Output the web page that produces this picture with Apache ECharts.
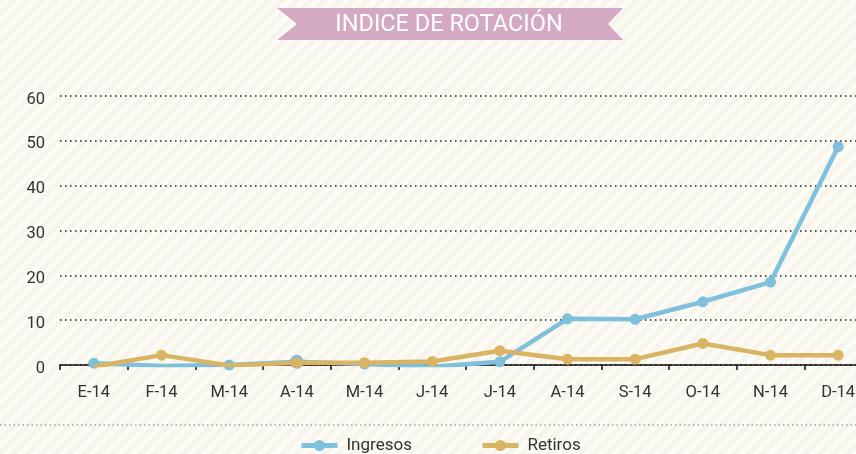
<!DOCTYPE html>
<html><head><meta charset="utf-8">
<script src="https://cdn.jsdelivr.net/npm/echarts@6/dist/echarts.min.js"></script>
<style>
html,body{margin:0;padding:0;overflow:hidden;width:856px;height:454px;}
#c{width:872px;height:454px;background:repeating-linear-gradient(-45deg,#fdfbf5 0px,#fdfbf5 5px,#f7f4ec 5px,#f7f4ec 10px);}
</style></head><body>
<div id="c"></div>
<script>
var categories = ['E-14','F-14','M-14','A-14','M-14','J-14','J-14','A-14','S-14','O-14','N-14','D-14'];
var ingresos = [0.4,-0.2,0,0.7,0.2,-0.4,0.7,10.3,10.2,14.1,18.5,48.7];
var retiros = [-0.4,2.2,-0.1,0.5,0.5,0.8,3.2,1.3,1.3,4.8,2.2,2.2];
var yTicks = [0,10,20,30,40,50,60];
var titleText = 'INDICE DE ROTACIÓN';

var chart = echarts.init(document.getElementById('c'), null, {renderer:'canvas'});
var font = 'Roboto, "Liberation Sans", sans-serif';
var ingresosData = ingresos.map(function(v, i){ return i === 3 ? {value: v, symbolSize: 14} : v; });
chart.setOption({
  backgroundColor: 'transparent',
  animation: false,
  textStyle: {fontFamily: font},
  graphic: [
    {type:'polygon', shape:{points:[[277,8],[623,8],[608,24],[623,40],[277,40],[297,24]]}, style:{fill:'#d4a9c4'}},
    {type:'text', x:449, y:25, style:{text:titleText, fill:'#ffffff', font:'23.5px '+font, textAlign:'center', textVerticalAlign:'middle'}},
    {type:'line', shape:{x1:0,y1:425,x2:872,y2:425}, style:{stroke:'#777', lineWidth:1.2, lineDash:[1.5,3]}}
  ],
  legend: {
    top: 437, left: 299, padding: 0, itemGap: 68, itemWidth: 36, itemHeight: 14,
    lineStyle: {width: 5},
    textStyle: {fontSize: 17, color: '#333', fontFamily: font, padding:[0,0,0,4]},
    data: ['Ingresos','Retiros']
  },
  grid: {left: 60, top: 96, right: 0, bottom: 89, containLabel: false},
  xAxis: {
    type: 'category', data: categories, boundaryGap: true,
    axisLine: {lineStyle: {color: '#111', width: 1.5}},
    axisTick: {show: true, length: 5, lineStyle: {color:'#111', width:1.5}},
    axisLabel: {fontSize: 16.5, color: '#333', margin: 19, fontFamily: font}
  },
  yAxis: {
    type: 'value', min: 0, max: 60, interval: 10,
    axisLine: {show: false}, axisTick: {show: false},
    axisLabel: {fontSize: 16.5, color: '#333', margin: 15, fontFamily: font,
      verticalAlign: 'top', lineHeight: 7,
      formatter: function(v){ return yTicks.indexOf(v) >= 0 ? String(v) : ''; }},
    splitLine: {lineStyle: {color: '#222', width: 1.5, type: [1.5, 3.5]}}
  },
  series: [
    {name:'Ingresos', type:'line', data: ingresosData, symbol:'circle', symbolSize: 11,
     lineStyle:{color:'#7fc0dc', width:4.5}, itemStyle:{color:'#7fc0dc'}, z: 2},
    {name:'Retiros', type:'line', data: retiros, symbol:'circle', symbolSize: 11,
     lineStyle:{color:'#d9b462', width:4.5}, itemStyle:{color:'#d9b462'}, z: 3}
  ]
});
</script>
</body></html>
